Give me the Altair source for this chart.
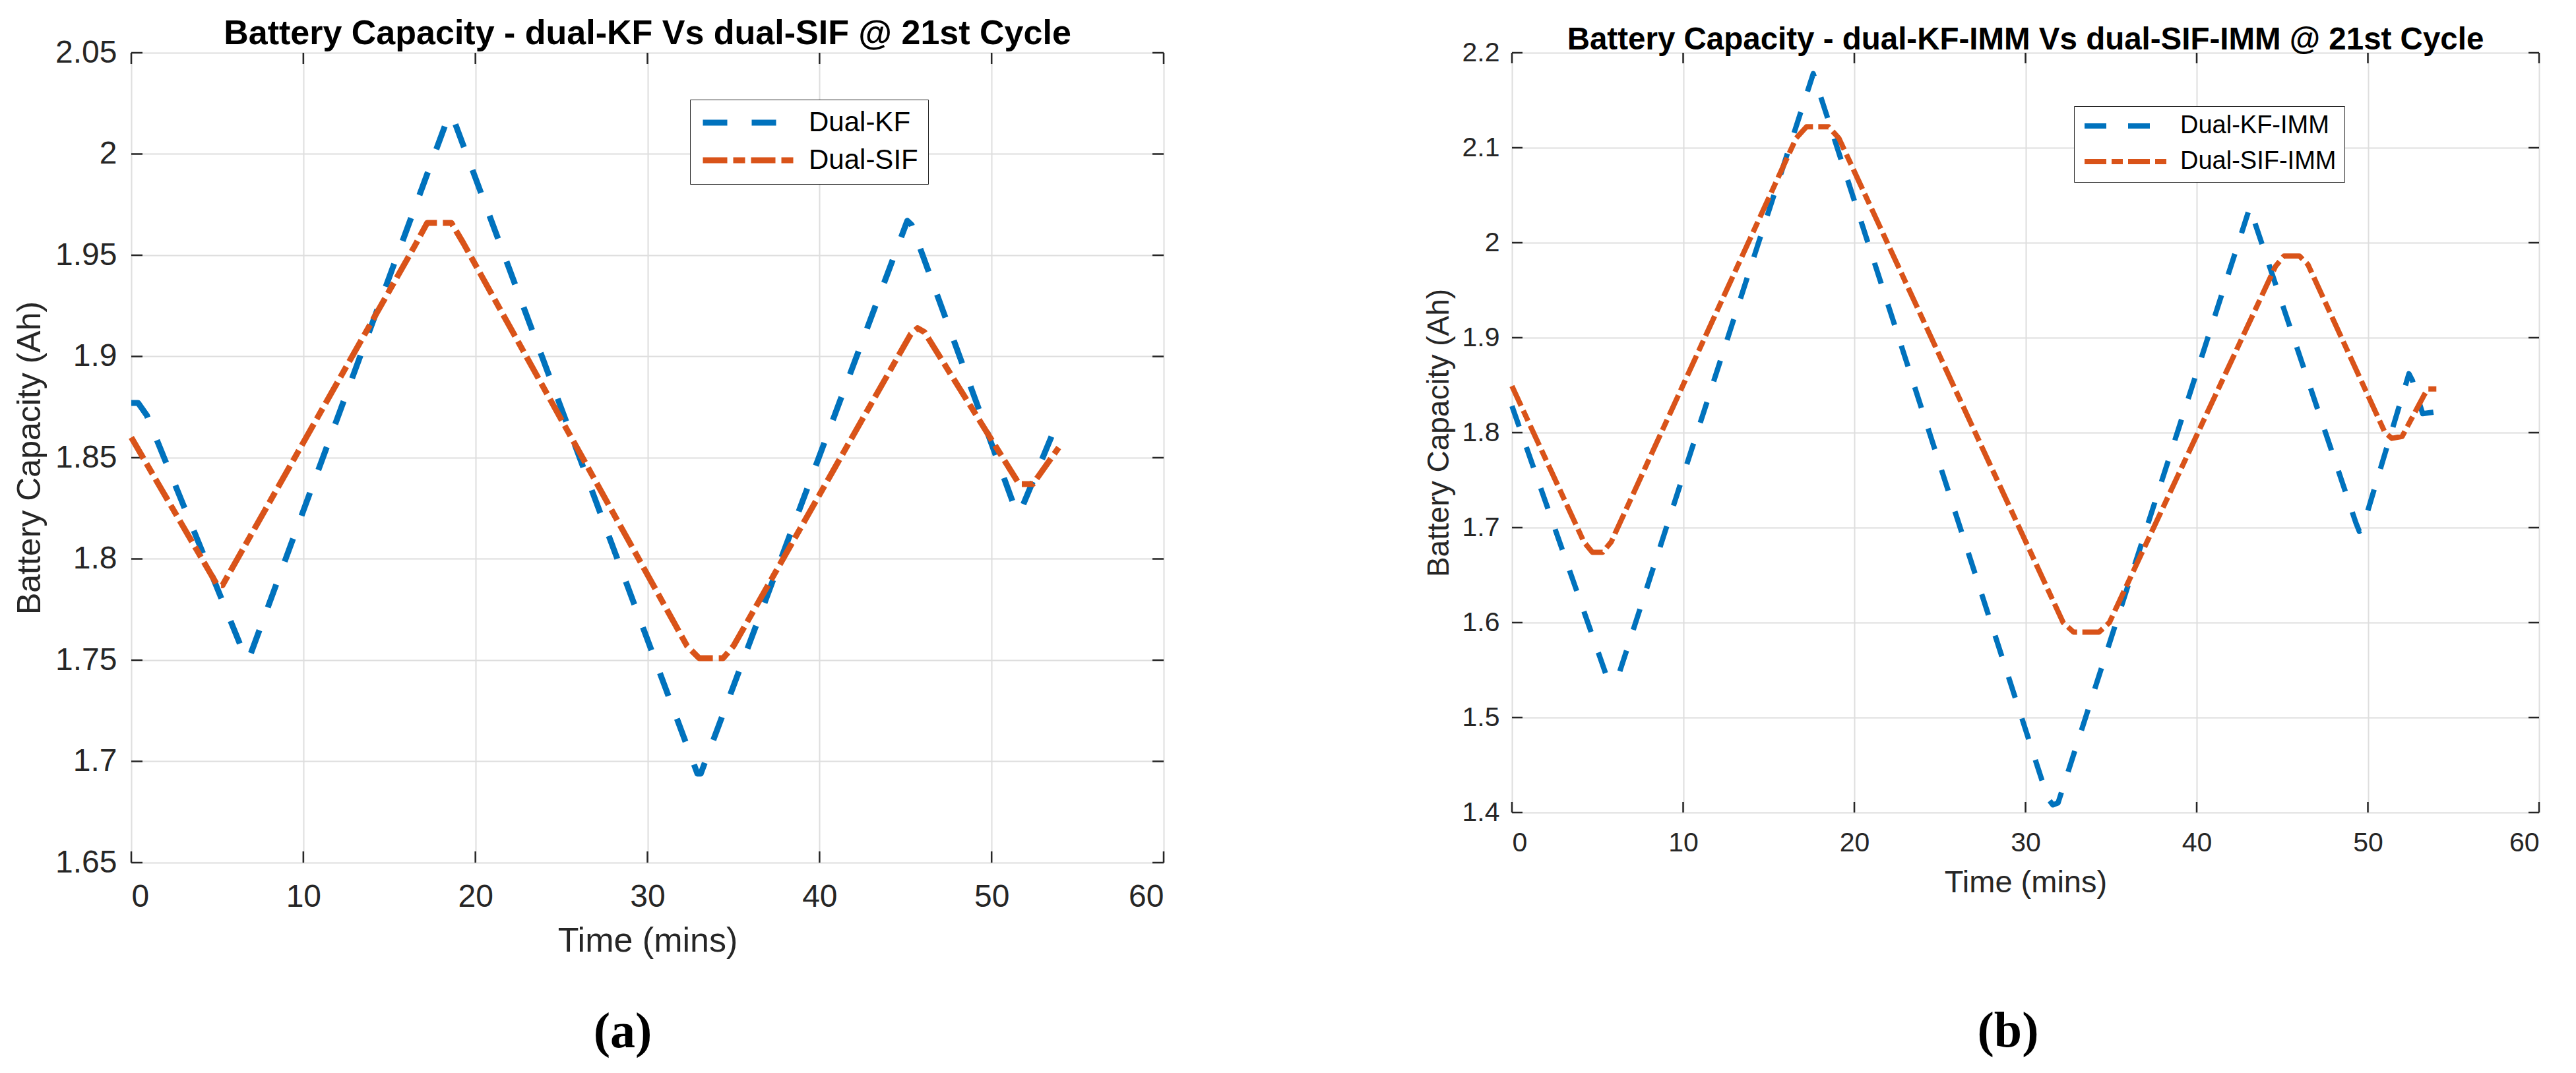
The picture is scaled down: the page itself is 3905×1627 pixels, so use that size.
import altair as alt
import pandas as pd

# ---------------- data ----------------
x_ticks = [0, 10, 20, 30, 40, 50, 60]

# Panel (a)
a_series = ["Dual-KF", "Dual-SIF"]
a_kf_t = [0, 0.4, 0.9, 6.65, 6.85, 18.45, 18.65, 32.9, 33.1, 45.1, 45.35, 51.45, 51.65, 53.9]
a_kf_v = [1.877, 1.877, 1.871, 1.751, 1.751, 2.019, 2.019, 1.694, 1.694, 1.967, 1.965, 1.823, 1.823, 1.869]
a_sif_t = [0, 5.0, 5.3, 16.5, 17.2, 18.6, 19.3, 32.3, 33.0, 34.4, 35.0, 45.3, 45.7, 46.1, 51.6, 52.4, 53.9]
a_sif_v = [1.860, 1.787, 1.787, 1.955, 1.966, 1.966, 1.956, 1.757, 1.751, 1.751, 1.757, 1.911, 1.914, 1.912, 1.837, 1.837, 1.855]
a_y_ticks = [1.65, 1.7, 1.75, 1.8, 1.85, 1.9, 1.95, 2.0, 2.05]

# Panel (b)
b_series = ["Dual-KF-IMM", "Dual-SIF-IMM"]
b_kf_t = [0, 5.5, 5.8, 6.2, 17.6, 31.3, 31.6, 31.9, 43.1, 49.3, 49.5, 49.7, 52.4, 52.6, 53.2, 54.0]
b_kf_v = [1.828, 1.545, 1.548, 1.543, 2.178, 1.415, 1.408, 1.410, 2.037, 1.705, 1.696, 1.700, 1.862, 1.855, 1.820, 1.822]
b_sif_t = [0, 4.2, 4.7, 5.3, 5.8, 16.6, 17.2, 18.5, 19.1, 32.2, 32.8, 34.3, 34.9, 44.6, 45.1, 46.0, 46.5,
           51.0, 51.4, 52.0, 53.3, 53.5, 54.0]
b_sif_v = [1.849, 1.685, 1.674, 1.674, 1.685, 2.110, 2.122, 2.122, 2.110, 1.600, 1.590, 1.590, 1.600, 1.975, 1.986,
           1.986, 1.977, 1.800, 1.794, 1.796, 1.840, 1.846, 1.846]
b_y_ticks = [1.4, 1.5, 1.6, 1.7, 1.8, 1.9, 2.0, 2.1, 2.2]

FONT = "Liberation Sans"
BLUE = "#0072BD"
ORANGE = "#D95319"
AXC = "#262626"


def panel(series, kf_t, kf_v, sif_t, sif_v, yticks, title, caption, s):
    df = pd.concat([
        pd.DataFrame({"t": kf_t, "v": kf_v, "series": series[0]}),
        pd.DataFrame({"t": sif_t, "v": sif_v, "series": series[1]}),
    ], ignore_index=True)
    W, H = s["W"], s["H"]
    X = alt.X("t:Q", scale=alt.Scale(domain=[0, 60], nice=False, zero=False),
              axis=alt.Axis(values=x_ticks, title="Time (mins)", grid=True, gridColor="#dedede",
                            gridWidth=2, domain=False, ticks=False, tickSize=0,
                            labelFont=FONT, labelFontSize=s["tick"], labelColor=AXC,
                            labelPadding=s["xlp"], titleFont=FONT, titleFontSize=s["xt"],
                            titleFontWeight="normal", titleColor=AXC, titlePadding=s["xtp"]))
    Y = alt.Y("v:Q", scale=alt.Scale(domain=[yticks[0], yticks[-1]], nice=False, zero=False),
              axis=alt.Axis(values=yticks, format=".3~g", title="Battery Capacity (Ah)", grid=True,
                            gridColor="#dedede", gridWidth=2, domain=False, ticks=False, tickSize=0,
                            labelFont=FONT, labelFontSize=s["tick"], labelColor=AXC,
                            labelPadding=s["ylp"], titleFont=FONT, titleFontSize=s["yt"],
                            titleFontWeight="normal", titleColor=AXC, titlePadding=s["ytp"]))
    leg = alt.Legend(title=None, orient="none", legendX=s["lx"], legendY=s["ly"],
                     symbolType="stroke", symbolSize=s["sym"] ** 2, symbolStrokeWidth=s["lw"],
                     clipHeight=s["ch"], rowPadding=s["rp"], padding=s["pad"], labelOffset=s["lo"],
                     labelFont=FONT, labelFontSize=s["lf"], labelColor="black", labelLimit=0,
                     strokeColor=AXC, fillColor="white", cornerRadius=0)
    line = alt.Chart(df).mark_line(strokeWidth=s["lw"], strokeCap="butt", strokeJoin="round").encode(
        x=X, y=Y,
        color=alt.Color("series:N", scale=alt.Scale(domain=series, range=[BLUE, ORANGE]), legend=leg),
        strokeDash=alt.StrokeDash("series:N", scale=alt.Scale(domain=series, range=s["dash"]), legend=leg),
    )
    xt = pd.DataFrame({"t": x_ticks})
    yt = pd.DataFrame({"v": yticks})
    tl = s["tl"]
    rk = dict(color=AXC, strokeWidth=2.5)
    tick_top = alt.Chart(xt).mark_rule(**rk).encode(x=X, y=alt.value(0), y2=alt.value(tl))
    tick_bot = alt.Chart(xt).mark_rule(**rk).encode(x=X, y=alt.value(H - tl), y2=alt.value(H))
    tick_lft = alt.Chart(yt).mark_rule(**rk).encode(y=Y, x=alt.value(0), x2=alt.value(tl))
    tick_rgt = alt.Chart(yt).mark_rule(**rk).encode(y=Y, x=alt.value(W - tl), x2=alt.value(W))
    cap = alt.Chart(pd.DataFrame({"c": [caption]})).mark_text(
        font="Liberation Serif", fontWeight="bold", fontSize=76, color="black",
        align="center", baseline="middle").encode(text="c:N", x=alt.value(s["cx"]), y=alt.value(s["cy"]))
    return alt.layer(tick_top, tick_bot, tick_lft, tick_rgt, line, cap).properties(
        width=W, height=H,
        title=alt.TitleParams(title, font=FONT, fontSize=s["tf"], fontWeight="bold", color="black",
                              anchor="middle", frame="group", offset=s["toff"], baseline="alphabetic"))


sa = dict(W=1565, H=1228, tick=48, xlp=28, xt=52, xtp=17, ylp=22, yt=50, ytp=13, tf=52, toff=-63,
          lx=847, ly=71, sym=138, lw=9, ch=40, rp=15, pad=15, lo=18, lf=42,
          dash=[[37, 37], [37, 9, 18, 9]], tl=17, cx=745, cy=1485)
sb = dict(W=1557, H=1152, tick=41, xlp=26, xt=47, xtp=17, ylp=19, yt=46, ytp=11, tf=47.5, toff=-63,
          lx=852, ly=81, sym=125, lw=8, ch=36, rp=16, pad=12, lo=16, lf=38,
          dash=[[33, 33], [33, 8, 17, 8]], tl=16, cx=752, cy=1484)

ca = panel(a_series, a_kf_t, a_kf_v, a_sif_t, a_sif_v, a_y_ticks,
           "Battery Capacity - dual-KF Vs dual-SIF @ 21st Cycle", "(a)", sa)
cb = panel(b_series, b_kf_t, b_kf_v, b_sif_t, b_sif_v, b_y_ticks,
           "Battery Capacity - dual-KF-IMM Vs dual-SIF-IMM @ 21st Cycle", "(b)", sb)

chart = alt.hconcat(ca, cb, spacing=391).resolve_scale(
    x="independent", y="independent", color="independent", strokeDash="independent"
).properties(padding={"left": 12, "top": 16, "right": 5, "bottom": 5}).configure_view(
    stroke=AXC, strokeWidth=2.5
).configure(background="white")

chart.save("out.html", embed_options={"renderer": "svg", "actions": False})
